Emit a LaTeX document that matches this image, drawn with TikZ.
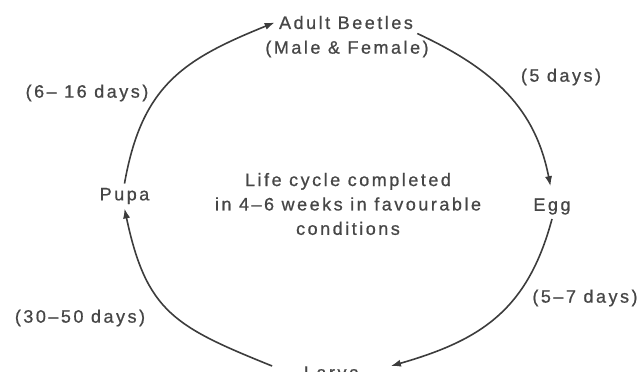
\documentclass[tikz,border=0pt]{standalone}
\usepackage{fontspec}
\setmainfont{Liberation Sans}[LetterSpace=14, FakeBold=0.8]
\usetikzlibrary{arrows.meta, positioning}
\definecolor{inkline}{RGB}{60, 60, 60}
\definecolor{inktext}{RGB}{70, 70, 70}

\begin{document}
\begin{tikzpicture}[
    x=0.5pt, y=0.5pt,
    stage/.style={
        font=\fontsize{9}{12.2}\selectfont, text=inktext,
        inner sep=2pt, align=center
    },
    period/.style={
        font=\fontsize{9}{12.2}\selectfont, text=inktext, inner sep=0pt
    },
    cycle/.style={
        -{Latex[length=5pt, width=3.6pt]}, draw=inkline, line width=0.8pt
    }
]

\useasboundingbox (0,0) rectangle (643,371);
\clip (0,0) rectangle (643,371);

% Stages
\node[stage] (adult) at (346, 348.5) {Adult Beetles};
\node[stage] (sexes) at (347, 322)   {(Male \& Female)};
\node[stage] (egg)   at (552, 164.5) {Egg};
\node[stage] (pupa)  at (124.5, 175) {Pupa};
\node[stage, anchor=north, inner ysep=0pt, minimum width=59pt]
      (larva) at (331.5, 5) {Larva};

% Centre note
\node[stage] (note) at (348, 167)
      {Life cycle completed\\in 4--6 weeks in favourable\\conditions};

% Durations
\node[period] (tpupa)  at (87, 278)  {(6-- 16 days)};
\node[period] (tadult) at (561, 294) {(5 days)};
\node[period] (tegg)   at (585, 73)  {(5--7 days)};
\node[period] (tlarva) at (80, 53)   {(30--50 days)};

% Arrows round the cycle
\draw[cycle] (pupa.north) to[out=80, in=202, looseness=1.15] (adult.west);
\draw[cycle, shorten >=4pt] (adult.south east) to[out=-25, in=101, looseness=1.05] (egg.north);
\draw[cycle] (egg.south) to[out=-105, in=16, looseness=1.1] (larva.north east);
\draw[cycle] (larva.north west) to[out=158, in=-78, looseness=1.25] (pupa.south);

\end{tikzpicture}
\end{document}
